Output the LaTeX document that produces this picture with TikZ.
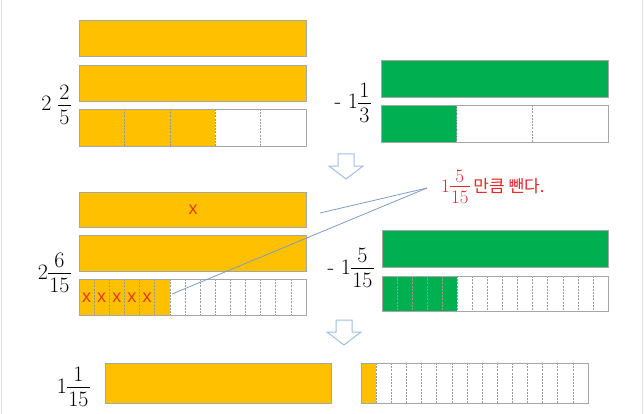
\documentclass[tikz,border=0pt]{standalone}
\usepackage{fontspec}
\newfontfamily\kofont{Noto Sans CJK KR}
\newfontfamily\xfont{Liberation Sans}
% text fraction: bar sits 0.25em above the baseline
\newcommand{\tfr}[2]{\begingroup
  \setbox0=\hbox{#1}\setbox2=\hbox{#2}%
  \dimen0=\wd0 \ifdim\wd2>\dimen0 \dimen0=\wd2 \fi
  \advance\dimen0 by 0.12em
  \rlap{\raisebox{0.51em}{\makebox[\dimen0]{\copy0}}}%
  \rlap{\raisebox{0.25em}{\rule{\dimen0}{0.04em}}}%
  \raisebox{\dimexpr 0.03em-\ht2\relax}{\makebox[\dimen0]{\copy2}}%
  \endgroup}
\definecolor{barorange}{HTML}{FFC000}
\definecolor{bargreen}{HTML}{00B050}
\definecolor{barline}{HTML}{A6A6A6}
\definecolor{arrowblue}{HTML}{9DBFE6}
\definecolor{leadercol}{HTML}{7F9CC4}
\definecolor{redtext}{HTML}{E8262A}
\definecolor{xred}{HTML}{E83A1E}
\tikzset{
  barframe/.style={draw=barline, line width=0.8pt},
  divider/.style={draw=gray!80, line width=0.6pt, dash pattern=on 2pt off 1.2pt},
  mixlabel/.style={inner sep=0pt, font=\fontsize{22}{24}\selectfont},
  leader/.style={draw=leadercol, line width=0.8pt},
  blockarrow/.style={draw=arrowblue, line width=1pt, fill=white, line join=miter},
  xmark/.style={inner sep=0pt, text=xred, font=\xfont\fontsize{18}{18}\selectfont},
  edge/.style={draw=gray!25, line width=1pt}
}
% #1 name, #2 x0, #3 y0, #4 x1, #5 y1, #6 parts, #7 filled parts, #8 colour
\newcommand{\segbar}[8]{%
  \coordinate (#1-nw) at (#2,#3);
  \coordinate (#1-se) at (#4,#5);
  \fill[#8] (#2,#3) rectangle ({#2+(#4-#2)*#7/#6},#5);
  \pgfmathtruncatemacro\nlast{#6-1}%
  \foreach \i in {1,...,\nlast}{\draw[divider] ({#2+(#4-#2)*\i/#6},#3) -- ({#2+(#4-#2)*\i/#6},#5);}
  \draw[barframe] (#2,#3) rectangle (#4,#5);
}
\newcommand{\fullbar}[6]{%
  \coordinate (#1-nw) at (#2,#3);
  \coordinate (#1-se) at (#4,#5);
  \fill[#6] (#2,#3) rectangle (#4,#5);
  \draw[barframe] (#2,#3) rectangle (#4,#5);
}
\begin{document}
\begin{tikzpicture}[x=1pt,y=-1pt]
\useasboundingbox (0,0) rectangle (644,414);
\fill[white] (0,0) rectangle (644,414);
\draw[edge] (1.5,0) -- (1.5,414);
\draw[edge] (642.5,0) -- (642.5,414);

% top left: 2 2/5
\fullbar{t1}{79}{20}{306}{56}{barorange}
\fullbar{t2}{79}{65}{306}{101}{barorange}
\segbar{t3}{79}{109}{306}{146}{5}{3}{barorange}
\node[mixlabel, anchor=base east] (lt) at (71,111) {2\kern0.3em\tfr{2}{5}};

% top right: - 1 1/3
\fullbar{r1}{381}{60}{608}{97}{bargreen}
\segbar{r2}{381}{105}{608}{142}{3}{1}{bargreen}
\node[mixlabel, anchor=base east] (rt) at (371,109) {-\kern0.3em 1\tfr{1}{3}};

% arrow 1
\draw[blockarrow] (338,154) -- (354,154) -- (354,166) -- (363,166) -- (346,179) -- (329,166) -- (338,166) -- cycle;

% middle left: 2 6/15
\fullbar{m1}{79}{192}{306}{227}{barorange}
\fullbar{m2}{79}{235}{306}{271}{barorange}
\segbar{m3}{79}{279}{306}{315}{15}{6}{barorange}
\node[mixlabel, anchor=base east] (lm) at (71,279) {2\tfr{6}{15}};
\node[xmark] (x0) at (193,210) {x};
\foreach \k in {1,...,5}{
  \node[xmark] (x\k) at ({79+227/15*(\k-0.5)},298) {x};
}

% middle right: - 1 5/15
\fullbar{n1}{382}{230}{608}{267}{bargreen}
\segbar{n2}{382}{276}{608}{311}{15}{5}{bargreen}
\node[mixlabel, anchor=base east] (rm) at (374,274) {-\kern0.3em 1\tfr{5}{15}};

% red note and leader lines
\node[inner sep=0pt, anchor=base west, text=redtext, font=\fontsize{19}{21}\selectfont] (note) at (441,192)
  {1\tfr{5}{15}\kern0.2em{\kofont\fontsize{17}{20}\selectfont 만큼 뺀다.}};
\coordinate (lead) at (427,188);
\coordinate (endA) at (320,213);
\coordinate (endB) at (172,294);
\draw[leader] (lead) -- (endA);
\draw[leader] (lead) -- (endB);

% arrow 2
\draw[blockarrow] (336,320) -- (352,320) -- (352,332) -- (361,332) -- (344,345) -- (327,332) -- (336,332) -- cycle;

% bottom: 1 1/15
\fullbar{b1}{105}{363}{331}{403}{barorange}
\segbar{b2}{361}{363}{588}{403}{15}{1}{barorange}
\node[mixlabel, anchor=base east] (lb) at (90,393) {1\tfr{1}{15}};
\end{tikzpicture}
\end{document}
